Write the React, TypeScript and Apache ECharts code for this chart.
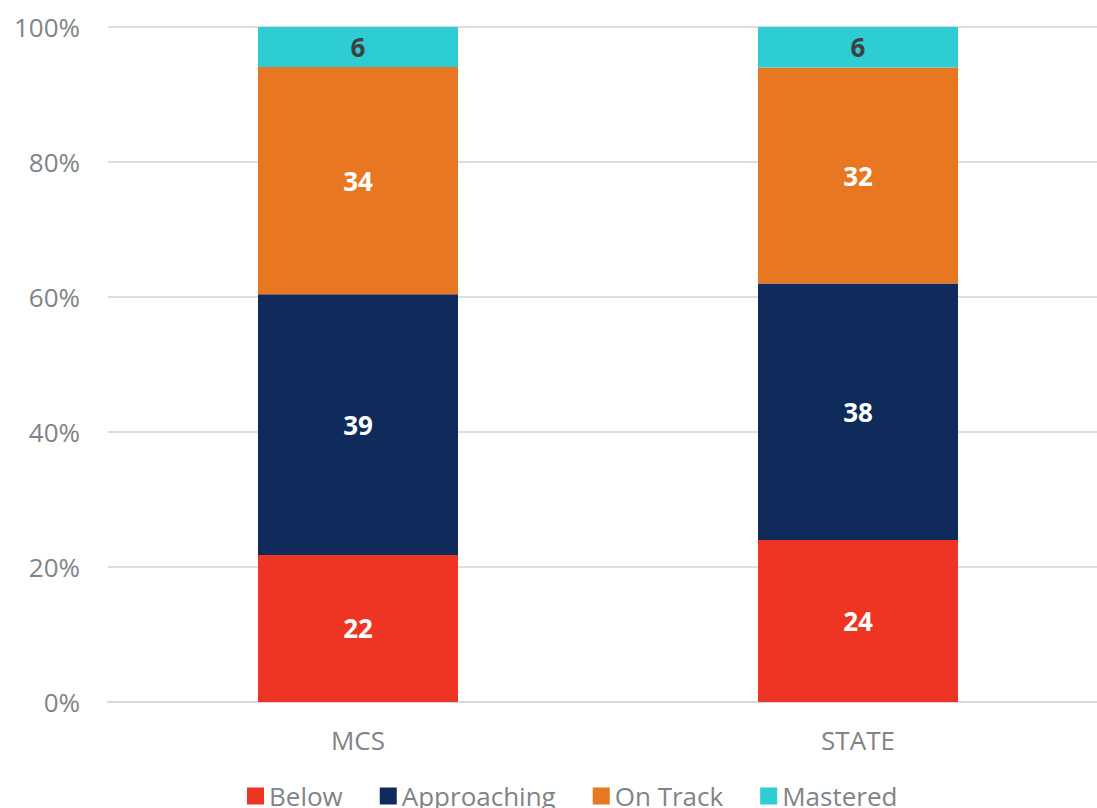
import React, { useEffect, useRef } from "react";
import * as echarts from "echarts";

const categories = ["MCS", "STATE"];
const seriesNames = ["Below", "Approaching", "On Track", "Mastered"];
const below = [22, 24];
const approaching = [39, 38];
const onTrack = [34, 32];
const mastered = [6, 6];
const yTicks = [0, 20, 40, 60, 80, 100];

const colors = ["#EE3524", "#0F2B5B", "#E87722", "#2ECCD3"];
const labelColors = ["#ffffff", "#ffffff", "#ffffff", "#404040"];

export default function App() {
  const ref = useRef<HTMLDivElement>(null);
  useEffect(() => {
    document.body.style.margin = "0";
    const chart = echarts.init(ref.current!, null, { renderer: "svg" });
    const raw = [below, approaching, onTrack, mastered];
    const totals = categories.map((_, i) => raw.reduce((s, arr) => s + arr[i], 0));
    const font = "'Open Sans', sans-serif";
    chart.setOption({
      animation: false,
      textStyle: { fontFamily: font },
      grid: {
        left: 108,
        width: 1000,
        top: 27,
        bottom: 106,
        containLabel: false,
        outerBoundsMode: "none",
      },
      legend: {
        top: 781,
        left: 247,
        padding: 0,
        itemWidth: 17,
        itemHeight: 17,
        itemGap: 37,
        icon: "rect",
        textStyle: { fontSize: 26, color: "#808488", fontFamily: font, lineHeight: 30 },
        data: seriesNames,
      },
      xAxis: {
        type: "category",
        data: categories,
        axisLine: { lineStyle: { color: "#d9d9d9", width: 2 } },
        axisTick: { show: false },
        axisLabel: { fontSize: 26, color: "#808488", margin: 25, fontFamily: font },
      },
      yAxis: {
        type: "value",
        min: 0,
        max: 100,
        interval: 20,
        axisLabel: {
          fontSize: 26,
          color: "#808488",
          margin: 28,
          fontFamily: font,
          formatter: (v: number) => (yTicks.includes(v) ? v + "%" : ""),
        },
        splitLine: { lineStyle: { color: "#dedede", width: 2 } },
        axisLine: { show: false },
      },
      series: seriesNames.map((name, si) => ({
        name,
        type: "bar",
        stack: "total",
        barWidth: 200,
        itemStyle: { color: colors[si] },
        label: {
          show: true,
          position: "inside",
          color: labelColors[si],
          fontWeight: "bold",
          fontSize: 26,
          fontFamily: font,
          formatter: (p: any) => String(raw[si][p.dataIndex]),
        },
        data: raw[si].map((v, i) => (v / totals[i]) * 100),
      })),
    });
    return () => chart.dispose();
  }, []);
  return <div ref={ref} style={{ width: 1097, height: 808 }} />;
}
